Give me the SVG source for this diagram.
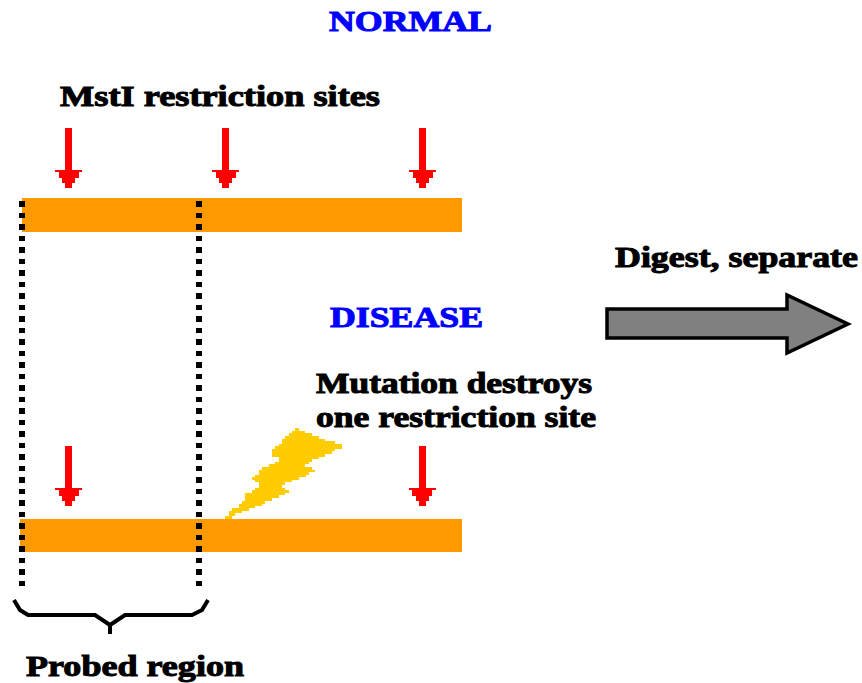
<svg xmlns="http://www.w3.org/2000/svg" width="862" height="683" viewBox="0 0 862 683">
<style>
text{font-family:"Liberation Serif",serif;font-weight:bold;font-size:29px;fill:#000;stroke:#000;stroke-width:1}
.blue{fill:#0000ff;stroke:#0000ff}
.bar{fill:#ff9900;shape-rendering:crispEdges}
.dot{fill:none;stroke:#000;stroke-width:6;stroke-dasharray:5.5 6;shape-rendering:crispEdges}
.red{fill:#ff0000;shape-rendering:crispEdges}
</style>
<defs>
<path id="ra" d="M-3.500 0H3.500V42H13.500V44H10V50H6.500V55H3.500V60H-3.500V55H-6.500V50H-10V44H-13.500V42H-3.500Z"/>
</defs>
<rect width="862" height="683" fill="#fff"/>
<g id="bar-normal"><rect class="bar" x="22" y="198" width="440" height="34"/></g>
<g id="bar-disease"><rect class="bar" x="20" y="519" width="442" height="33"/></g>
<g id="lightning"><path fill="#ffcc00" shape-rendering="crispEdges" transform="translate(200 360) scale(.33333)" d="M285 204H297V213H315V219H335V228H357V237H375V243H405V252H426V267H405V273H395V282H375V291H357V297H335V305H327V312H315V321H335V330H345V336H327V345H318V351H297V360H276V366H255V375H246V384H255V390H267V400H255V405H237V414H216V423H195V432H185V438H165V445H147V453H126V460H105V468H95V477H75V468H87V453H97V445H117V432H126V423H135V400H155V390H165V384H177V366H165V360H155V351H165V345H177V330H185V321H207V312H225V305H237V291H216V267H225V258H237V252H247V237H255V228H267V219H275V213H285Z"/></g>
<g id="connectors">
<path class="dot" d="M22 201V592"/>
<path class="dot" d="M198.500 201V592"/>
<use href="#ra" class="red" x="68.500" y="128"/>
<use href="#ra" class="red" x="225.500" y="128"/>
<use href="#ra" class="red" x="422.500" y="128"/>
<use href="#ra" class="red" x="68.500" y="446"/>
<use href="#ra" class="red" x="422" y="446"/>
</g>
<g id="brace"><path d="M14 600L20 610L28 615H95L110 625L125 615H192L202 610L208 600M110 625V634" fill="none" stroke="#000" stroke-width="4"/></g>
<g id="process-arrow"><path d="M607 309H787V295L848 324L787 353V338H607Z" fill="#808080" stroke="#000" stroke-width="3.500"/></g>
<g id="labels">
<text class="blue" x="329" y="31" textLength="163" lengthAdjust="spacingAndGlyphs">NORMAL</text>
<text x="60" y="106" textLength="320" lengthAdjust="spacingAndGlyphs">MstI  restriction sites</text>
<text x="615" y="267" textLength="243" lengthAdjust="spacingAndGlyphs">Digest, separate</text>
<text class="blue" x="330" y="327" textLength="153" lengthAdjust="spacingAndGlyphs">DISEASE</text>
<text x="316" y="393" textLength="276" lengthAdjust="spacingAndGlyphs">Mutation destroys</text>
<text x="316" y="427" textLength="280" lengthAdjust="spacingAndGlyphs">one restriction site</text>
<text x="26" y="676" textLength="218" lengthAdjust="spacingAndGlyphs">Probed region</text>
</g>
</svg>
